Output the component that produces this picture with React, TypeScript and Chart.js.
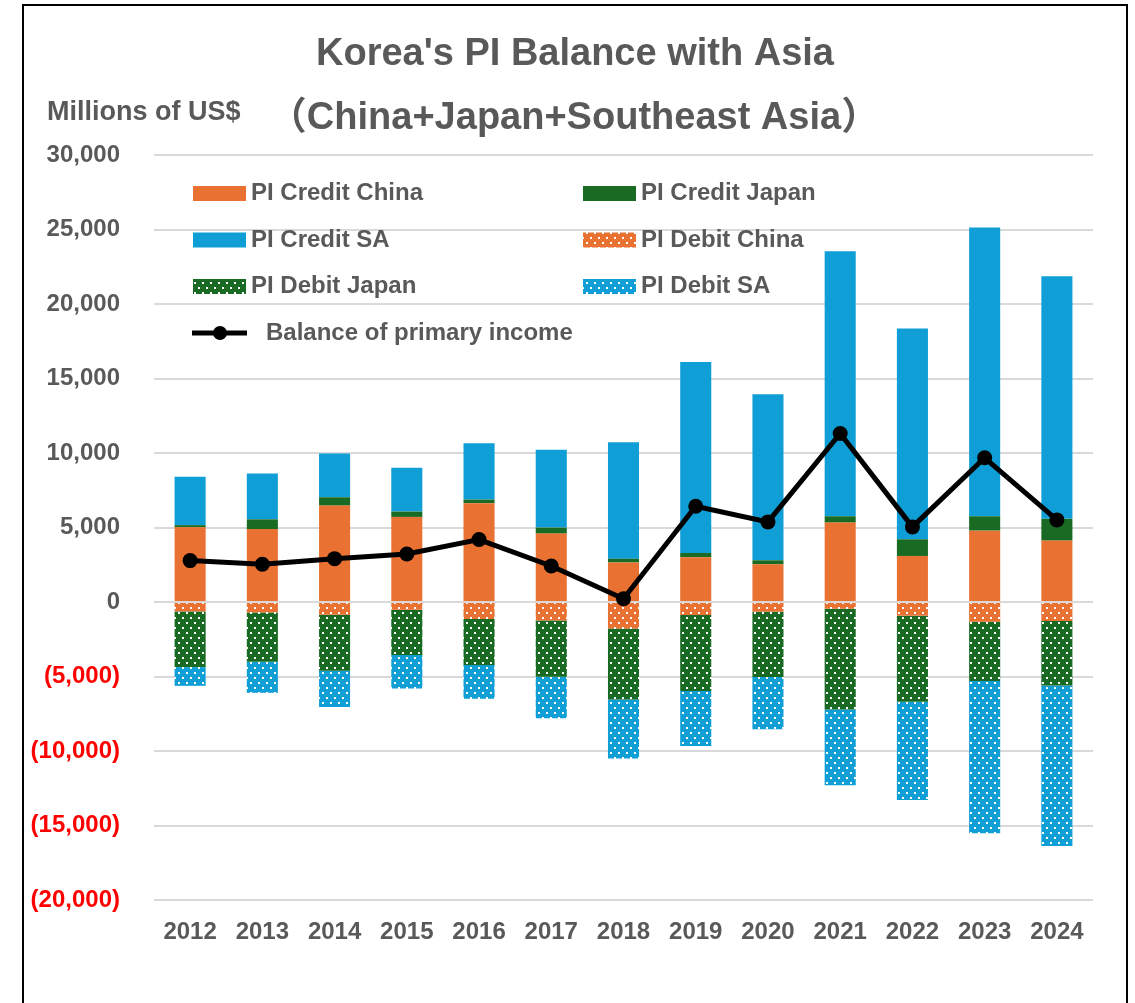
import React, { useEffect, useRef } from "react";
import { Chart, registerables } from "chart.js";

Chart.register(...registerables);

const years = ["2012", "2013", "2014", "2015", "2016", "2017", "2018", "2019", "2020", "2021", "2022", "2023", "2024"];
const creditChina = [5010, 4900, 6470, 5710, 6630, 4590, 2650, 3000, 2530, 5330, 3090, 4790, 4120];
const creditJapan = [150, 650, 560, 360, 245, 405, 260, 290, 270, 425, 1120, 965, 1460];
const creditSA = [3250, 3070, 2940, 2935, 3785, 5220, 7810, 12810, 11150, 17790, 14150, 19380, 16280];
const debitChina = [-630, -700, -855, -520, -1140, -1240, -1775, -875, -650, -450, -920, -1325, -1275];
const debitJapan = [-3740, -3310, -3760, -3045, -3090, -3780, -4770, -5090, -4390, -6770, -5780, -3985, -4330];
const debitSA = [-1255, -2085, -2440, -2245, -2265, -2775, -3965, -3695, -3495, -5080, -6585, -10215, -10775];
const balance = [2780, 2530, 2910, 3225, 4190, 2420, 220, 6425, 5375, 11310, 5040, 9680, 5510];

const yTicks = [-20000, -15000, -10000, -5000, 0, 5000, 10000, 15000, 20000, 25000, 30000];

const ORANGE = "#E97132";
const GREEN = "#196B24";
const BLUE = "#0F9ED5";
const TEXT = "#595959";
const FONT = '"Liberation Sans", Arial, sans-serif';

function makePattern(color: string): CanvasPattern | string {
  const c = document.createElement("canvas");
  c.width = 8;
  c.height = 10;
  const g = c.getContext("2d");
  if (!g) return color;
  g.fillStyle = color;
  g.fillRect(0, 0, 8, 10);
  g.fillStyle = "#FFFFFF";
  g.fillRect(2, 2, 2, 2);
  g.fillRect(6, 7, 2, 2);
  const p = g.createPattern(c, "repeat");
  return p || color;
}

const fmt = (v: number) => {
  if (v === 0) return "0";
  const s = Math.abs(v).toLocaleString("en-US");
  return v < 0 ? `(${s})` : s;
};

export default function App() {
  const ref = useRef<HTMLCanvasElement | null>(null);

  useEffect(() => {
    if (!ref.current) return;
    const pChina = makePattern(ORANGE);
    const pJapan = makePattern(GREEN);
    const pSA = makePattern(BLUE);

    const decor = {
      id: "decor",
      afterDraw(chart: any) {
        const ctx = chart.ctx as CanvasRenderingContext2D;
        ctx.save();
        ctx.fillStyle = TEXT;
        ctx.textBaseline = "middle";
        // titles
        ctx.textAlign = "center";
        ctx.font = `bold 38px ${FONT}, "Noto Sans CJK JP"`;
        ctx.fillText("Korea's PI Balance with Asia", 575, 55);
        ctx.fillText("（China+Japan+Southeast Asia）", 574, 119);
        ctx.textAlign = "left";
        ctx.font = `bold 27px ${FONT}`;
        ctx.fillText("Millions of US$", 47, 113);

        // legend
        ctx.font = `bold 24px ${FONT}`;
        const items: [any, string, number, number][] = [
          [ORANGE, "PI Credit China", 193, 193.5],
          [GREEN, "PI Credit Japan", 583, 193.5],
          [BLUE, "PI Credit SA", 193, 240],
          [pChina, "PI Debit China", 583, 240],
          [pJapan, "PI Debit Japan", 193, 286.5],
          [pSA, "PI Debit SA", 583, 286.5],
        ];
        for (const [fill, label, x, y] of items) {
          ctx.fillStyle = fill;
          ctx.fillRect(x, y - 7.5, 53, 15);
          ctx.fillStyle = TEXT;
          ctx.fillText(label, x + 58, y);
        }
        ctx.strokeStyle = "#000";
        ctx.lineWidth = 5;
        ctx.beginPath();
        ctx.moveTo(192, 333);
        ctx.lineTo(247, 333);
        ctx.stroke();
        ctx.fillStyle = "#000";
        ctx.beginPath();
        ctx.arc(220, 333, 7, 0, Math.PI * 2);
        ctx.fill();
        ctx.fillStyle = TEXT;
        ctx.fillText("Balance of primary income", 266, 333);
        ctx.restore();
      },
    };

    const barCommon = {
      type: "bar" as const,
      borderWidth: 0,
      barPercentage: 0.43,
      categoryPercentage: 1,
    };

    const chart = new Chart(ref.current, {
      type: "bar",
      data: {
        labels: years,
        datasets: [
          { ...barCommon, label: "PI Credit China", data: creditChina, backgroundColor: ORANGE },
          { ...barCommon, label: "PI Credit Japan", data: creditJapan, backgroundColor: GREEN },
          { ...barCommon, label: "PI Credit SA", data: creditSA, backgroundColor: BLUE },
          { ...barCommon, label: "PI Debit China", data: debitChina, backgroundColor: pChina as any },
          { ...barCommon, label: "PI Debit Japan", data: debitJapan, backgroundColor: pJapan as any },
          { ...barCommon, label: "PI Debit SA", data: debitSA, backgroundColor: pSA as any },
          {
            type: "line" as const,
            label: "Balance of primary income",
            data: balance,
            borderColor: "#000",
            backgroundColor: "#000",
            borderWidth: 5,
            pointRadius: 7.5,
            pointBackgroundColor: "#000",
            pointBorderWidth: 0,
            order: -1,
            stack: "line",
          } as any,
        ],
      },
      options: {
        responsive: false,
        animation: false,
        layout: { padding: { top: 155, right: 42, left: 0, bottom: 0 } },
        plugins: {
          legend: { display: false },
          title: { display: false },
          tooltip: { enabled: false },
        },
        scales: {
          x: {
            stacked: true,
            grid: { display: false, drawTicks: false },
            border: { display: false },
            ticks: {
              color: TEXT,
              font: { family: FONT, size: 24, weight: "bold" },
              padding: 18,
              maxRotation: 0,
            },
            afterFit: (s: any) => {
              s.height = 103;
            },
          },
          y: {
            stacked: true,
            min: -20000,
            max: 30000,
            afterBuildTicks: (s: any) => {
              s.ticks = yTicks.map((v) => ({ value: v }));
            },
            grid: { color: "#D9D9D9", lineWidth: 2, drawTicks: false },
            border: { display: false },
            ticks: {
              padding: 34,
              font: { family: FONT, size: 24, weight: "bold" },
              color: (c: any) => (c.tick && c.tick.value < 0 ? "#FF0000" : TEXT),
              callback: (v: any) => fmt(Number(v)),
            },
            afterFit: (s: any) => {
              s.width = 154;
            },
          },
        },
      },
      plugins: [decor],
    });
    return () => chart.destroy();
  }, []);

  return (
    <div style={{ position: "absolute", left: 0, top: 0, width: 1135, height: 1003, background: "#fff", overflow: "hidden" }}>
      <div
        style={{
          position: "absolute",
          left: 22,
          top: 4,
          width: 1106,
          height: 1100,
          border: "2px solid #000",
          boxSizing: "border-box",
        }}
      />
      <canvas ref={ref} width={1135} height={1003} style={{ position: "absolute", left: 0, top: 0, width: 1135, height: 1003 }} />
    </div>
  );
}
